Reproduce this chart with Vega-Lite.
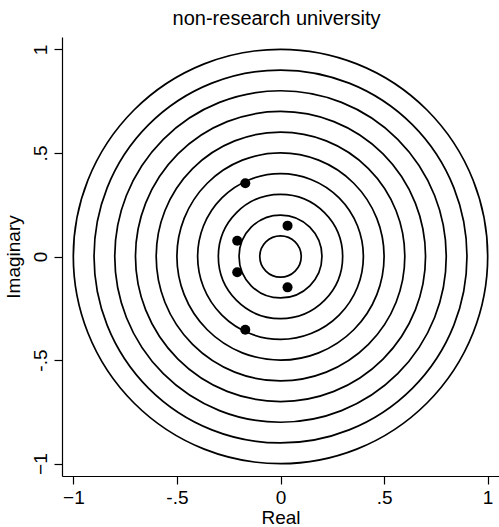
{
  "$schema": "https://vega.github.io/schema/vega-lite/v6.json",
  "width": 437,
  "height": 439,
  "autosize": {"type": "none"},
  "padding": {"left": 62, "top": 37, "right": 0, "bottom": 51},
  "background": "white",
  "title": {
    "text": "non-research university",
    "font": "Liberation Sans",
    "fontSize": 20,
    "fontWeight": "normal",
    "color": "black",
    "anchor": "middle",
    "offset": 8,
    "dx": -4
  },
  "config": {
    "view": {"stroke": null},
    "axis": {
      "grid": false,
      "domainColor": "black",
      "domainWidth": 1.2,
      "tickColor": "black",
      "tickWidth": 1.2,
      "tickSize": 8,
      "labelColor": "black",
      "titleColor": "black",
      "labelFont": "Liberation Sans",
      "titleFont": "Liberation Sans",
      "labelFontSize": 19,
      "titleFontSize": 19,
      "titleFontWeight": "normal"
    }
  },
  "layer": [
    {
      "data": {"values": [
        {"r": 0.1}, {"r": 0.2}, {"r": 0.3}, {"r": 0.4}, {"r": 0.5},
        {"r": 0.6}, {"r": 0.7}, {"r": 0.8}, {"r": 0.9}, {"r": 1.0}
      ]},
      "mark": {"type": "point", "shape": "circle", "filled": false, "stroke": "black", "strokeWidth": 1.7, "opacity": 1},
      "encoding": {
        "x": {"datum": 0, "type": "quantitative", "scale": {"domain": [-1.055, 1.055], "nice": false, "zero": false},
          "axis": {"values": [-1, -0.5, 0, 0.5, 1], "title": "Real", "labelPadding": 4, "titlePadding": 1,
            "labelExpr": "datum.value == 0.5 ? '.5' : datum.value == -0.5 ? '-.5' : format(datum.value, 'd')"}},
        "y": {"datum": 0, "type": "quantitative", "scale": {"domain": [-1.06, 1.06], "nice": false, "zero": false},
          "axis": {"values": [-1, -0.5, 0, 0.5, 1], "title": "Imaginary", "labelAngle": -90, "labelAlign": "center", "labelBaseline": "middle", "labelPadding": 14, "titlePadding": 8,
            "labelExpr": "datum.value == 0.5 ? '.5' : datum.value == -0.5 ? '-.5' : format(datum.value, 'd')"}},
        "size": {"field": "r", "type": "quantitative", "scale": {"type": "pow", "exponent": 2, "domain": [0, 1], "range": [0, 171700], "zero": true}, "legend": null}
      }
    },
    {
      "data": {"values": [
        {"real": -0.170, "imag": 0.354},
        {"real": -0.170, "imag": -0.354},
        {"real": -0.209, "imag": 0.076},
        {"real": -0.209, "imag": -0.076},
        {"real": 0.034, "imag": 0.149},
        {"real": 0.034, "imag": -0.149}
      ]},
      "mark": {"type": "point", "shape": "circle", "filled": true, "color": "black", "size": 100, "opacity": 1},
      "encoding": {
        "x": {"field": "real", "type": "quantitative"},
        "y": {"field": "imag", "type": "quantitative"}
      }
    }
  ]
}
